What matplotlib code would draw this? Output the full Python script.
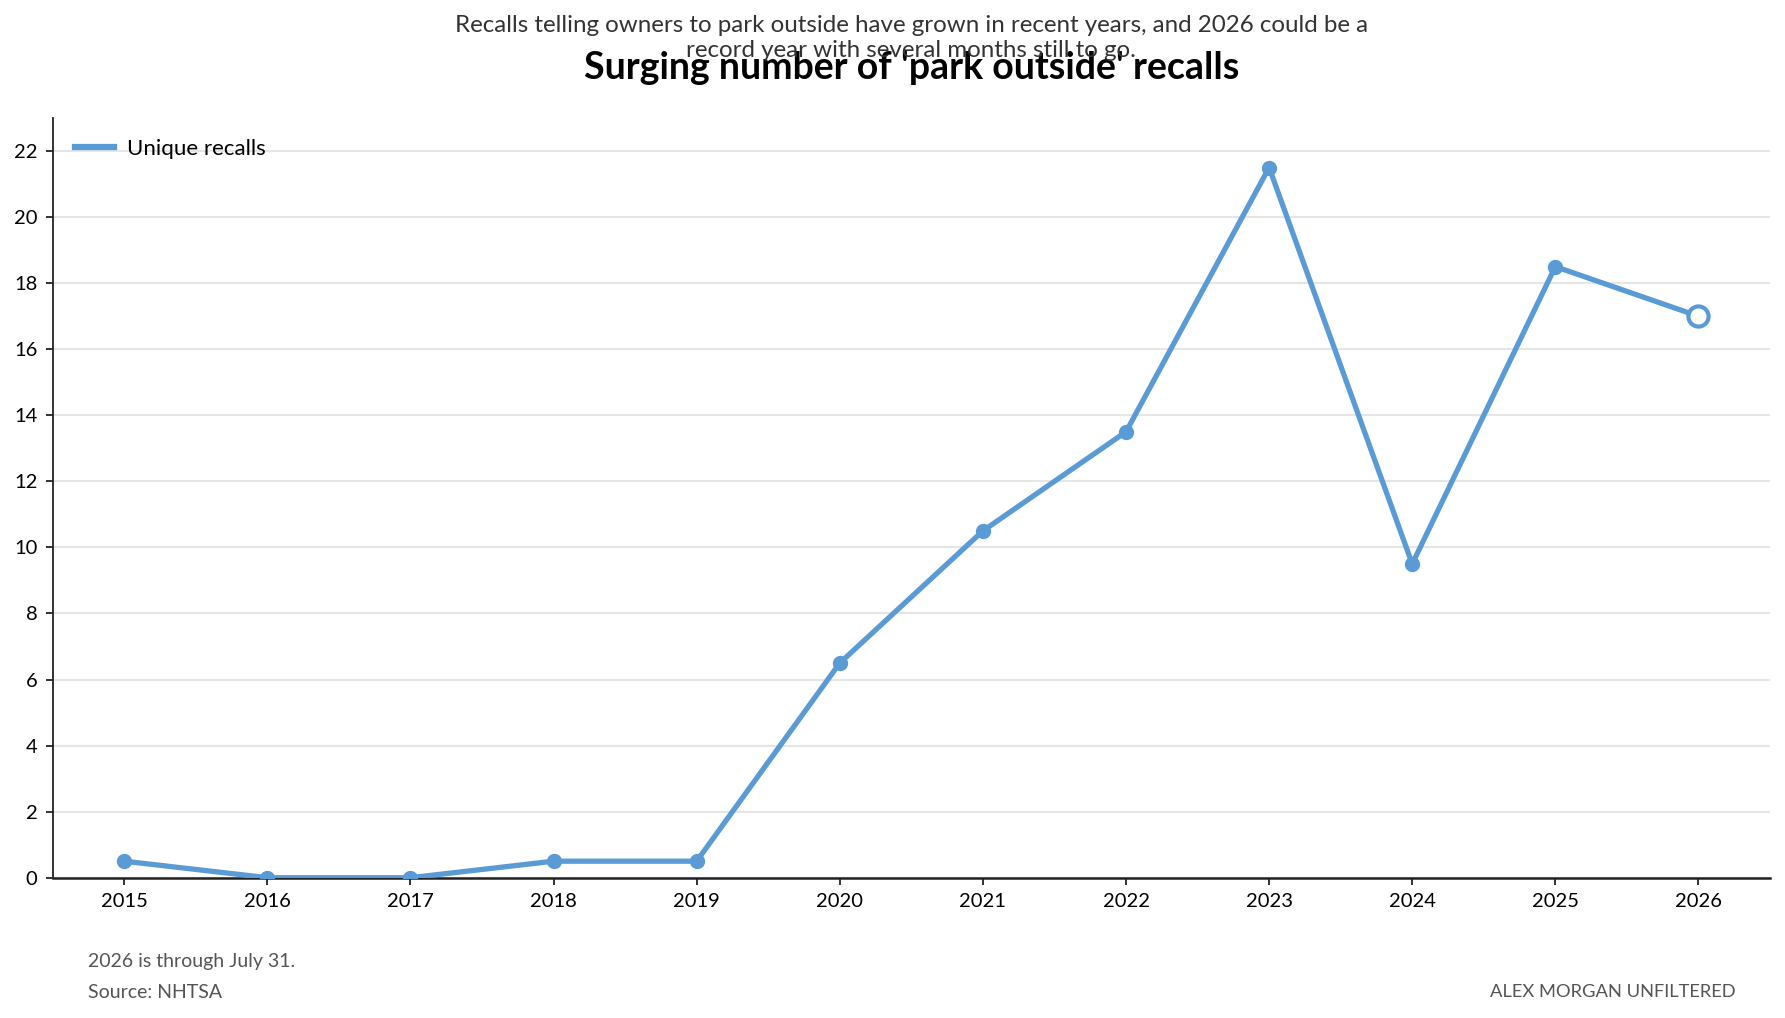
import matplotlib
matplotlib.use("Agg")
import matplotlib.pyplot as plt
from matplotlib.lines import Line2D

years = [2015, 2016, 2017, 2018, 2019, 2020, 2021, 2022, 2023, 2024, 2025, 2026]
recalls = [0.5, 0, 0, 0.5, 0.5, 6.5, 10.5, 13.5, 21.5, 9.5, 18.5, 17]
yticks = [0, 2, 4, 6, 8, 10, 12, 14, 16, 18, 20, 22]

title = "Surging number of 'park outside' recalls"
subtitle = ("Recalls telling owners to park outside have grown in recent years, and 2026 could be a\n"
            "record year with several months still to go.")
note = "2026 is through July 31."
source = "Source: NHTSA"
credit = "ALEX MORGAN UNFILTERED"
series_name = "Unique recalls"

plt.rcParams['font.family'] = ['Lato', 'DejaVu Sans']

W, H = 1785, 1018
fig = plt.figure(figsize=(W / 100, H / 100), dpi=100)
left, right, bottom, top = 52.7, 1770, 877.7, 118
ax = fig.add_axes([left / W, 1 - bottom / H, (right - left) / W, (bottom - top) / H])

color = '#5b9bd5'
ax.plot(years, recalls, color=color, lw=3.8, zorder=3, solid_capstyle='round')
ax.plot(years[:-1], recalls[:-1], 'o', color=color, ms=10, zorder=4)
ax.plot(years[-1:], recalls[-1:], 'o', mfc='white', mec=color, mew=3, ms=14.5, zorder=5)

ax.set_xlim(2014.5, 2026.5)
ax.set_ylim(0, 23)
ax.set_xticks(years)
ax.set_xticklabels([str(y) for y in years])
ax.set_yticks(yticks)
ax.grid(axis='y', color='#e6e6e6', lw=1.5, zorder=0)
ax.set_axisbelow(True)
for s in ['top', 'right']:
    ax.spines[s].set_visible(False)
ax.spines['left'].set_color('#222222')
ax.spines['left'].set_linewidth(1.3)
ax.spines['bottom'].set_color('#222222')
ax.spines['bottom'].set_linewidth(1.8)
ax.tick_params(axis='both', labelsize=14.5, colors='#222222', length=5, width=1.3, pad=6)
ax.tick_params(axis='x', pad=6)
for lab in ax.get_xticklabels() + ax.get_yticklabels():
    lab.set_color('black')

leg = ax.legend([Line2D([0], [0], color=color, lw=4.5)], [series_name], loc='upper left',
                frameon=False, fontsize=16, handlelength=1.75, handletextpad=0.6,
                bbox_to_anchor=(0.004, 0.993), borderaxespad=0.3)

cx = (left + right) / 2 / W
fig.text(cx, 1 - 68 / H, title, ha='center', va='center', fontsize=27, fontweight='bold', color='black')
fig.text(cx, 1 - 38 / H, subtitle, ha='center', va='center', fontsize=17.4, color='#333333',
         linespacing=1.2)
fig.text(88 / W, 1 - 962 / H, note, ha='left', va='center', fontsize=14, color='#555555')
fig.text(88 / W, 1 - 992 / H, source, ha='left', va='center', fontsize=14, color='#555555')
fig.text(1736 / W, 1 - 992 / H, credit, ha='right', va='center', fontsize=13.2, color='#555555')

fig.savefig('out.png', dpi=100)
